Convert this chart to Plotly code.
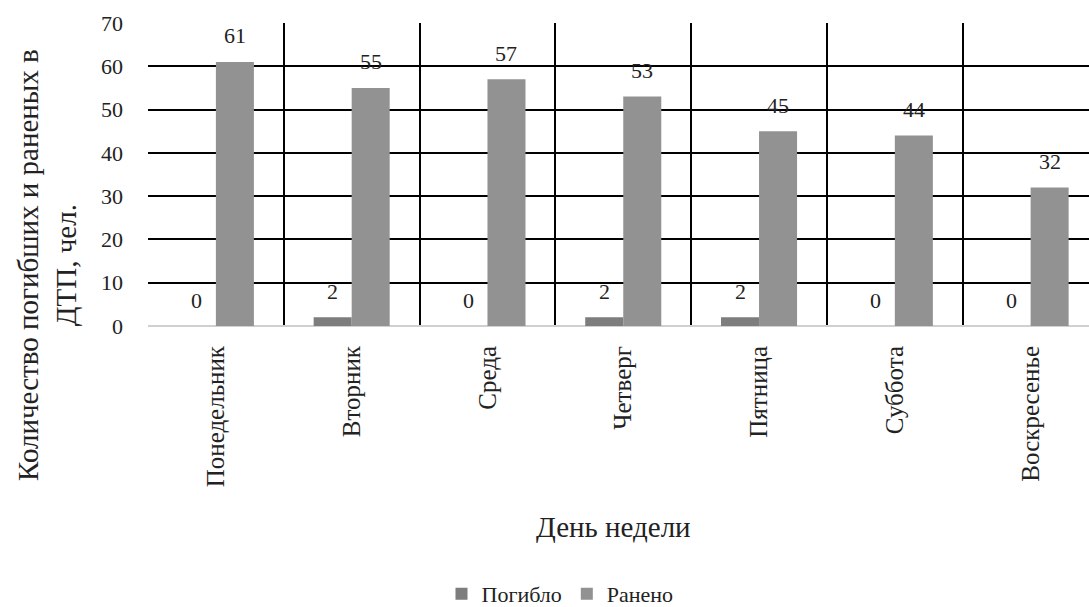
import plotly.graph_objects as go

days = ["Понедельник", "Вторник", "Среда", "Четверг", "Пятница", "Суббота", "Воскресенье"]
killed = [0, 2, 0, 2, 2, 0, 0]
injured = [61, 55, 57, 53, 45, 44, 32]
y_ticks = [0, 10, 20, 30, 40, 50, 60, 70]

FONT = "Times New Roman"
TXT = "#222222"
W, H = 1089, 607
ML, MT, MB, MR = 148, 23, 281, 0
PW = W - ML - MR
PH = H - MT - MB

def px_x(p):
    return (p - ML) / PW

def px_y(p):
    return (H - MB - p) / PH

fig = go.Figure()
fig.add_trace(go.Bar(name="Погибло", x=days, y=killed, marker_color="#7d7d7d", marker_line_width=0))
fig.add_trace(go.Bar(name="Ранено", x=days, y=injured, marker_color="#929292", marker_line_width=0))

ann = []
for i, d in enumerate(days):
    for vals, dx in ((killed, -19), (injured, 19)):
        ann.append(dict(x=d, y=vals[i], xref="x", yref="y", text=str(vals[i]), showarrow=False,
                        xshift=dx, yshift=26, yanchor="middle",
                        font=dict(family=FONT, size=22, color=TXT)))

ann.append(dict(x=px_x(47), y=px_y(265), xref="paper", yref="paper",
                text="Количество погибших и раненых в<br>ДТП, чел.", showarrow=False, textangle=-90,
                xanchor="center", yanchor="middle",
                font=dict(family=FONT, size=29, color=TXT)))
ann.append(dict(x=px_x(613), y=px_y(527), xref="paper", yref="paper", text="День недели",
                showarrow=False, xanchor="center", yanchor="middle",
                font=dict(family=FONT, size=29, color=TXT)))

fig.update_layout(
    template="none",
    width=W, height=H,
    margin=dict(l=ML, r=MR, t=MT, b=MB, pad=0, autoexpand=False),
    paper_bgcolor="white", plot_bgcolor="white",
    barmode="group", bargap=0.44, bargroupgap=0,
    font=dict(family=FONT, color=TXT),
    annotations=ann,
    legend=dict(orientation="h", x=px_x(560), y=px_y(594), xanchor="center", yanchor="middle",
                font=dict(family=FONT, size=22, color=TXT), itemwidth=30,
                traceorder="normal"),
    xaxis=dict(type="category", range=[-0.5, 6.43], tickson="boundaries", showgrid=True, automargin=False,
               gridcolor="#000000", gridwidth=1.5, tickangle=-90, ticks="", ticklabelstandoff=14,
               tickfont=dict(family=FONT, size=25, color=TXT), showline=False, zeroline=False),
    yaxis=dict(range=[0, 70], tickvals=y_ticks, showgrid=True, gridcolor="#000000", gridwidth=1.5,
               automargin=False,
               zeroline=True, zerolinecolor="#d0d0d0", zerolinewidth=1.5, ticks="", ticklabelstandoff=24,
               tickfont=dict(family=FONT, size=22, color=TXT), showline=False),
)

fig.write_html("out.html", config={"displayModeBar": False},
               post_script="document.body.style.margin='0';")
